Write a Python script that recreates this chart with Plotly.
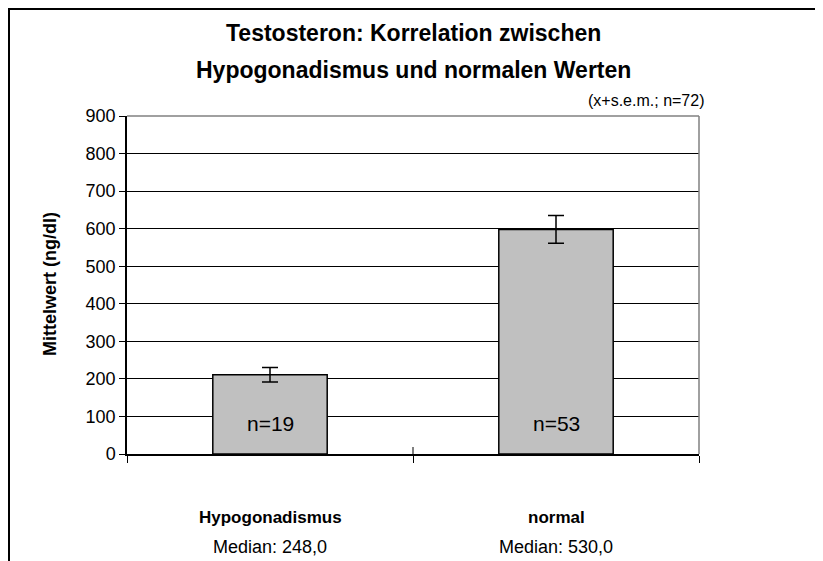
import plotly.graph_objects as go

categories = ["Hypogonadismus", "normal"]
means = [211, 598]
sem = [19, 37]
n_labels = ["n=19", "n=53"]
medians = ["Median: 248,0", "Median: 530,0"]
y_ticks = [0, 100, 200, 300, 400, 500, 600, 700, 800, 900]

# page has an 8px body margin, so the figure is drawn 8px in from the top-left
OFF = 8
W, H = 823 - OFF, 561 - OFF
# plot area in page pixels: x 127..699, y 116..454
PL, PR, PT, PB = 127, 699, 116, 454
L, T = PL - OFF, PT - OFF
R, B = W - (PR - OFF), H - (PB - OFF)
pw, ph = PR - PL, PB - PT

def px(x):
    return (x - PL) / pw

def py(y):
    return (PB - y) / ph

FONT = "Liberation Sans, Arial, sans-serif"

fig = go.Figure()
fig.add_trace(go.Bar(
    x=categories, y=means,
    marker=dict(color="#C0C0C0", line=dict(color="black", width=1.5)),
    error_y=dict(type="data", array=sem, visible=True, color="black", thickness=1.5, width=8),
    width=0.4,
))

annotations = []
annotations.append(dict(text="<b>Testosteron: Korrelation zwischen</b>", x=0.5, y=py(33), xref="paper", yref="paper",
                        showarrow=False, font=dict(size=23, color="black", family=FONT), xanchor="center", yanchor="middle"))
annotations.append(dict(text="<b>Hypogonadismus und normalen Werten</b>", x=0.5, y=py(70), xref="paper", yref="paper",
                        showarrow=False, font=dict(size=23, color="black", family=FONT), xanchor="center", yanchor="middle"))
annotations.append(dict(text="(x+s.e.m.; n=72)", x=px(707), y=py(100), xref="paper", yref="paper",
                        showarrow=False, font=dict(size=16, color="black", family=FONT), xanchor="right", yanchor="middle"))
annotations.append(dict(text="<b>Mittelwert (ng/dl)</b>", x=px(50), y=py(284), xref="paper", yref="paper",
                        textangle=-90, showarrow=False, font=dict(size=18, color="black", family=FONT),
                        xanchor="center", yanchor="middle"))
for c, n, m in zip(categories, n_labels, medians):
    annotations.append(dict(text=n, x=c, y=82, xref="x", yref="y", showarrow=False,
                            font=dict(size=21, color="black", family=FONT), xanchor="center", yanchor="middle"))
    annotations.append(dict(text="<b>" + c + "</b>", x=c, y=py(517), xref="x", yref="paper", showarrow=False,
                            font=dict(size=17, color="black", family=FONT), xanchor="center", yanchor="middle"))
    annotations.append(dict(text=m, x=c, y=py(547), xref="x", yref="paper", showarrow=False,
                            font=dict(size=18, color="black", family=FONT), xanchor="center", yanchor="middle"))

shapes = [
    # outer chart frame (left and top edges visible)
    dict(type="rect", xref="paper", yref="paper", x0=px(9), x1=px(860), y0=py(600), y1=py(9),
         line=dict(color="black", width=2), layer="below"),
    # plot area border top/right in gray
    dict(type="line", xref="paper", yref="paper", x0=0, x1=1, y0=1, y1=1, line=dict(color="#808080", width=1.5)),
    dict(type="line", xref="paper", yref="paper", x0=1, x1=1, y0=0, y1=1, line=dict(color="#808080", width=1.5)),
    # inner half of the crossing category-boundary tick
    dict(type="line", xref="paper", yref="paper", x0=0.5, x1=0.5, y0=0, y1=7 / ph, line=dict(color="black", width=1)),
]

fig.update_layout(
    width=W, height=H,
    margin=dict(l=L, r=R, t=T, b=B, pad=0),
    paper_bgcolor="white", plot_bgcolor="white",
    showlegend=False,
    bargap=0.6,
    annotations=annotations,
    shapes=shapes,
    font=dict(family=FONT, color="black"),
)
fig.update_xaxes(
    type="category", range=[-0.5, 1.5], showticklabels=False,
    tickson="boundaries", ticks="outside", ticklen=7, tickcolor="black", tickwidth=1,
    showline=True, linecolor="black", linewidth=1.5, showgrid=False, zeroline=False,
)
fig.update_yaxes(
    range=[0, 900], tickvals=y_ticks, ticks="outside", ticklen=6, tickcolor="black", tickwidth=1,
    showline=True, linecolor="black", linewidth=1.5,
    showgrid=True, gridcolor="black", gridwidth=1, zeroline=False,
    tickfont=dict(size=18, color="black", family=FONT),
)

fig.write_html("out.html")
